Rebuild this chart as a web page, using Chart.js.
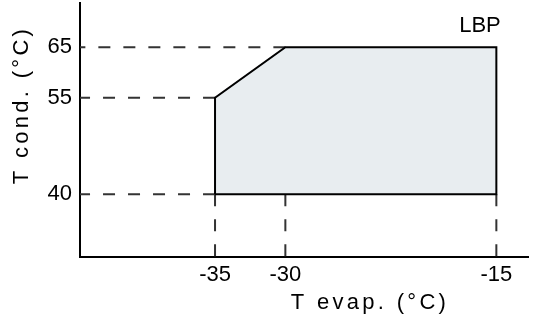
<!DOCTYPE html>
<html>
<head>
<meta charset="utf-8">
<script src="https://cdn.jsdelivr.net/npm/chart.js@4/dist/chart.umd.min.js"></script>
<style>
  html, body { margin: 0; padding: 0; background: #fff; }
  canvas { display: block; }
</style>
</head>
<body>
<canvas id="envelope" width="537" height="320"></canvas>
<script>
// operating envelope corners, going round clockwise from bottom-left
const evapLimits = [-35, -35, -30, -15, -15];
const condLimits = [40, 55, 65, 65, 40];

const evapTicks = [-35, -30, -15];
const condTicks = [40, 55, 65];

const envelopeName = "LBP";
const xTitle = "T evap. (\u00B0C)";
const yTitle = "T cond. (\u00B0C)";

const X_MIN = -44.6, X_MAX = -12.75;
const Y_MIN = 32.5, Y_MAX = 75.2;

const FONT = "'Liberation Sans', Arial, sans-serif";

const outline = evapLimits.map((x, i) => ({ x: x, y: condLimits[i] }));
outline.push(outline[0]);

const floor = Math.min(...condLimits);

// dashed guides start at the envelope and run out to the axes
const guides = [];
condTicks.forEach((c) => {
  const left = Math.min(...evapLimits.filter((x, i) => condLimits[i] === c));
  guides.push([{ x: left, y: c }, { x: X_MIN, y: c }]);
});
evapTicks.forEach((e) => {
  guides.push([{ x: e, y: floor }, { x: e, y: Y_MIN }]);
});

const guideSets = guides.map((pts) => ({
  data: pts,
  borderColor: "#333",
  borderWidth: 2,
  borderDash: [12, 13],
  pointRadius: 0,
  fill: false,
  order: 2,
}));

const titles = {
  id: "titles",
  afterDraw(chart) {
    const ctx = chart.ctx;
    ctx.save();
    ctx.fillStyle = "#000";
    ctx.font = "22px " + FONT;
    ctx.textAlign = "center";
    ctx.textBaseline = "middle";
    ctx.fillText(envelopeName, 480, 26);
    ctx.letterSpacing = "3.3px";
    ctx.fillText(xTitle, 370, 303);
    ctx.translate(22, 105);
    ctx.rotate(-Math.PI / 2);
    ctx.fillText(yTitle, 0, 0);
    ctx.restore();
  },
};

const noPad = (s) => {
  s.paddingTop = 0;
  s.paddingBottom = 0;
  s.paddingLeft = 0;
  s.paddingRight = 0;
};

new Chart(document.getElementById("envelope"), {
  type: "line",
  data: {
    datasets: [
      {
        data: outline,
        borderColor: "#000",
        borderWidth: 2,
        backgroundColor: "#e8edf0",
        fill: "shape",
        pointRadius: 0,
        tension: 0,
        order: 1,
      },
      ...guideSets,
    ],
  },
  options: {
    responsive: false,
    animation: false,
    layout: { padding: { top: 3, right: 9, left: 0, bottom: 0 } },
    plugins: { legend: { display: false }, tooltip: { enabled: false } },
    scales: {
      x: {
        type: "linear",
        min: X_MIN,
        max: X_MAX,
        grid: { display: false, drawTicks: false },
        border: { display: true, color: "#000", width: 2 },
        afterBuildTicks: (s) => { s.ticks = evapTicks.map((v) => ({ value: v })); },
        afterFit: (s) => { s.height = 63; noPad(s); },
        ticks: {
          color: "#000",
          padding: 5,
          maxRotation: 0,
          font: { family: FONT, size: 22 },
          callback: (v) => String(v),
        },
      },
      y: {
        type: "logarithmic",
        min: Y_MIN,
        max: Y_MAX,
        grid: { display: false, drawTicks: false },
        border: { display: true, color: "#000", width: 2 },
        afterBuildTicks: (s) => { s.ticks = condTicks.map((v) => ({ value: v })); },
        afterFit: (s) => { s.width = 80; noPad(s); },
        ticks: {
          color: "#000",
          padding: 8,
          font: { family: FONT, size: 22 },
          callback: (v) => String(v),
        },
      },
    },
  },
  plugins: [titles],
});
</script>
</body>
</html>
